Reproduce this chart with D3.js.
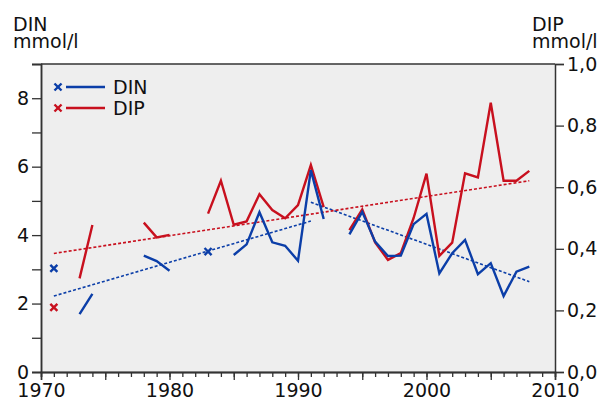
<!DOCTYPE html>
<html lang="en">
<head>
<meta charset="UTF-8">
<title>DIN / DIP</title>
<script src="https://cdn.jsdelivr.net/npm/d3@7"></script>
<style>
  body { margin: 0; background: #fff; }
  text { font-family: "DejaVu Sans", sans-serif; font-size: 19px; fill: #111; }
</style>
</head>
<body>
<div id="chart"></div>
<script>
// --- data ---
var years = d3.range(1971, 2009);
var din = [3.03, null, 1.69, 2.28, null, null, null, 3.40, 3.24, 2.96,
           null, null, 3.52, null, 3.42, 3.73, 4.67, 3.79, 3.69, 3.25,
           5.90, 4.47, null, 4.02, 4.68, 3.81, 3.39, 3.40, 4.32, 4.62,
           2.88, 3.47, 3.86, 2.86, 3.18, 2.22, 2.93, 3.08];
var dip = [0.21, null, 0.304, 0.477, null, null, null, 0.485, 0.437, 0.445,
           null, null, 0.514, 0.621, 0.478, 0.489, 0.577, 0.526, 0.499, 0.542,
           0.672, 0.535, null, 0.461, 0.528, 0.421, 0.364, 0.386, 0.50, 0.644,
           0.377, 0.42, 0.645, 0.632, 0.874, 0.621, 0.621, 0.653];
var dinTrendA = [[1971, 2.22], [1991, 4.41]];
var dinTrendB = [[1991, 4.96], [2008, 2.64]];
var dipTrend  = [[1971, 0.385], [2008, 0.621]];
var dinTicks = [0, 2, 4, 6, 8];
var dinMinor = [1, 3, 5, 7, 9];
var dipTicks = [0, 0.2, 0.4, 0.6, 0.8, 1.0];
var yearTicks = [1970, 1980, 1990, 2000, 2010];

var width = 601, height = 397;
var pLeft = 41, pRight = 555, pTop = 64, pBottom = 372;
var blue = '#0b3ea8', red = '#c8101e';

var svg = d3.select('#chart').append('svg')
    .attr('width', width).attr('height', height);

var x = d3.scaleLinear().domain([1970, 2010]).range([pLeft, pRight]);
var yL = d3.scaleLinear().domain([0, 9]).range([pBottom, pTop]);
var yR = d3.scaleLinear().domain([0, 1]).range([pBottom, pTop]);

svg.append('rect')
    .attr('x', pLeft).attr('y', pTop)
    .attr('width', pRight - pLeft).attr('height', pBottom - pTop)
    .attr('fill', '#eeeeee');

// axes
var fmt = function(d) { return d3.format('.1f')(d).replace('.', ','); };

svg.append('g').attr('transform', 'translate(' + pLeft + ',0)')
    .call(d3.axisLeft(yL).tickValues(dinTicks).tickSize(9).tickPadding(3));
svg.append('g').attr('transform', 'translate(' + pLeft + ',0)')
    .call(d3.axisLeft(yL).tickValues(dinMinor).tickSize(9).tickFormat(''));
svg.append('g').attr('transform', 'translate(' + pRight + ',0)')
    .call(d3.axisRight(yR).tickValues(dipTicks).tickSize(9).tickPadding(3).tickFormat(fmt));
svg.append('g').attr('transform', 'translate(0,' + pBottom + ')')
    .call(d3.axisBottom(x).tickValues(d3.range(1970, 2011)).tickSize(5).tickFormat(''));
svg.append('g').attr('transform', 'translate(0,' + pBottom + ')')
    .call(d3.axisBottom(x).tickValues(d3.range(1970, 2011, 5)).tickSize(8).tickFormat(''));
svg.append('g').attr('transform', 'translate(0,' + pBottom + ')')
    .call(d3.axisBottom(x).tickValues(yearTicks).tickSize(0).tickPadding(12).tickFormat(d3.format('d')));

svg.selectAll('.domain').attr('stroke', '#333').attr('stroke-width', 1.5);
svg.selectAll('.tick line').attr('stroke', '#333').attr('stroke-width', 1.3);
svg.selectAll('.tick text').style('font-size', '19px').attr('fill', '#111');

// top frame
svg.append('line')
    .attr('x1', pLeft).attr('x2', pRight).attr('y1', pTop).attr('y2', pTop)
    .attr('stroke', '#333').attr('stroke-width', 1.5);

// titles
svg.append('text').attr('x', 13).attr('y', 31).text('DIN');
svg.append('text').attr('x', 13).attr('y', 48).text('mmol/l');
svg.append('text').attr('x', 532).attr('y', 31).text('DIP');
svg.append('text').attr('x', 532).attr('y', 48).text('mmol/l');

// trend lines
var trend = d3.line().x(function(d) { return x(d[0]); });
function drawTrend(pts, yScale, color) {
    svg.append('path')
        .datum(pts)
        .attr('d', trend.y(function(d) { return yScale(d[1]); }))
        .attr('fill', 'none').attr('stroke', color)
        .attr('stroke-width', 1.6).attr('stroke-dasharray', '3,2');
}
drawTrend(dinTrendA, yL, blue);
drawTrend(dinTrendB, yL, blue);
drawTrend(dipTrend, yR, red);

// series
var cross = d3.symbol().type(d3.symbolX).size(34);
function drawSeries(vals, yScale, color) {
    var pts = years.map(function(yr, i) { return { year: yr, v: vals[i] }; });
    var line = d3.line()
        .defined(function(d) { return d.v != null; })
        .x(function(d) { return x(d.year); })
        .y(function(d) { return yScale(d.v); });
    svg.append('path')
        .datum(pts)
        .attr('d', line)
        .attr('fill', 'none').attr('stroke', color)
        .attr('stroke-width', 2.4).attr('stroke-linejoin', 'miter');
    var lone = pts.filter(function(d, i) {
        return d.v != null &&
            (i == 0 || pts[i - 1].v == null) &&
            (i == pts.length - 1 || pts[i + 1].v == null);
    });
    svg.selectAll(null).data(lone).enter().append('path')
        .attr('d', cross)
        .attr('transform', function(d) { return 'translate(' + x(d.year) + ',' + yScale(d.v) + ')'; })
        .attr('fill', 'none').attr('stroke', color).attr('stroke-width', 2.4);
}
drawSeries(dip, yR, red);
drawSeries(din, yL, blue);

// legend
var legend = [{ name: 'DIN', color: blue }, { name: 'DIP', color: red }];
var lg = svg.selectAll('.leg').data(legend).enter().append('g')
    .attr('class', 'leg')
    .attr('transform', function(d, i) { return 'translate(58,' + (87 + i * 21) + ')'; });
lg.append('path').attr('d', cross)
    .attr('fill', 'none').attr('stroke', function(d) { return d.color; }).attr('stroke-width', 2.4);
lg.append('line').attr('x1', 8).attr('x2', 47)
    .attr('stroke', function(d) { return d.color; }).attr('stroke-width', 2.4);
lg.append('text').attr('x', 55).attr('y', 7).text(function(d) { return d.name; });
</script>
</body>
</html>
